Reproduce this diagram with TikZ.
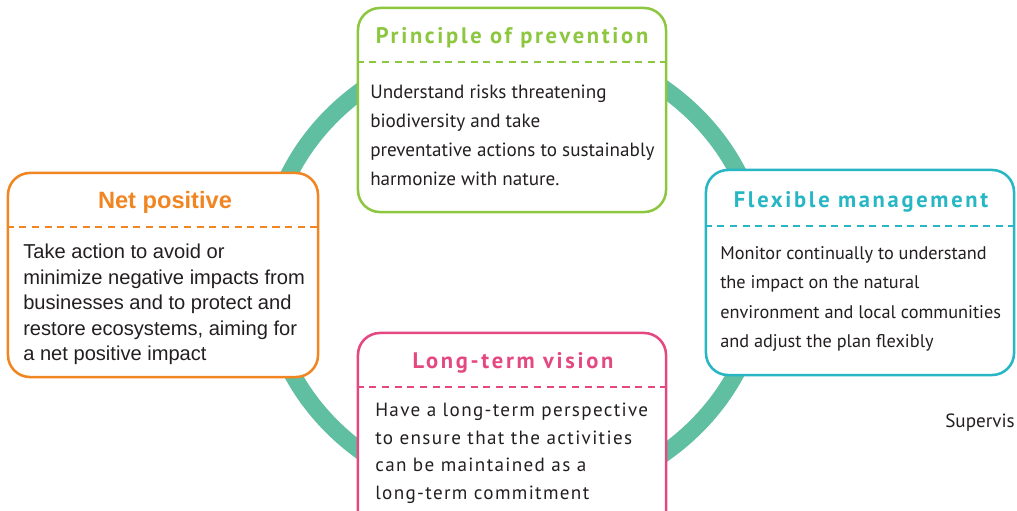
\documentclass[tikz,border=0pt]{standalone}
\usepackage{fontspec}
\setmainfont{PT Sans}
\newfontfamily\arialfont{Liberation Sans}
\newfontfamily\headfont[LetterSpace=12]{PT Sans}
\newfontfamily\widefont[LetterSpace=7]{PT Sans}
\usetikzlibrary{calc}

\definecolor{cgreen}{RGB}{141,198,63}
\definecolor{corange}{RGB}{240,133,33}
\definecolor{ccyan}{RGB}{38,182,196}
\definecolor{cpink}{RGB}{229,72,128}
\definecolor{cring}{RGB}{95,191,160}
\definecolor{ctext}{RGB}{35,31,32}

\begin{document}
\begin{tikzpicture}[x=0.025cm,y=-0.025cm,
	box/.style={draw=#1, line width=1.8pt, rounded corners=0.55cm, fill=white,
		minimum width=7.7cm, minimum height=5.1cm, inner sep=0pt},
	title/.style={text=#1, inner sep=0pt, font=\headfont\fontsize{16}{19}\selectfont\bfseries},
	body/.style={anchor=north west, align=left, inner sep=0pt, text=ctext,
		font=\fontsize{13.6}{20.6}\selectfont},
	sep/.style={draw=#1, line width=1.2pt, dash pattern=on 5pt off 4pt},
	ring/.style={draw=cring, line width=0.425cm}]

	\useasboundingbox (0,0) rectangle (1017,511);
	\clip (0,0) rectangle (1017,511);

	% ring behind the boxes
	\draw[ring] (514,271) ellipse [x radius=6.2cm, y radius=5.725cm];

	\node[box=cgreen] (prev) at (512,110){};
	\node[box=corange, minimum width=7.75cm] (net) at (163,275){};
	\node[box=ccyan, minimum height=5.125cm] (flex) at (860,272.5){};
	\node[box=cpink] (long) at (512,435){};

	\node[title=cgreen] (prevT) at (512,38){Principle of prevention};
	\node[title=corange, font=\arialfont\fontsize{16.8}{19}\selectfont\bfseries] (netT) at (165,202){Net positive};
	\node[title=ccyan] (flexT) at (861,202){Flexible management};
	\node[title=cpink] (longT) at (513,363){Long-term vision};

	\draw[sep=cgreen] (prev.west |- 0,62) -- (prev.east |- 0,62);
	\draw[sep=corange] (net.west |- 0,227) -- (net.east |- 0,227);
	\draw[sep=ccyan] (flex.west |- 0,226) -- (flex.east |- 0,226);
	\draw[sep=cpink] (long.west |- 0,387) -- (long.east |- 0,387);

	\node[body] (prevB) at (370,85){Understand risks threatening\\biodiversity and take\\preventative actions to sustainably\\harmonize with nature.};
	\node[body, font=\arialfont\fontsize{14.3}{18.1}\selectfont] (netB) at (23,244){Take action to avoid or\\minimize negative impacts from\\businesses and to protect and\\restore ecosystems, aiming for\\a net positive impact};
	\node[body, font=\fontsize{13}{20.9}\selectfont] (flexB) at (720,246){Monitor continually to understand\\the impact on the natural\\environment and local communities\\and adjust the plan flexibly};
	\node[body, font=\widefont\fontsize{13.6}{19.6}\selectfont] (longB) at (375,403){Have a long-term perspective\\to ensure that the activities\\can be maintained as a\\long-term commitment};

	\node[anchor=west, inner sep=0pt, text=ctext, font=\fontsize{13.6}{16}\selectfont] (sup) at (945,423){Supervis};
\end{tikzpicture}
\end{document}
